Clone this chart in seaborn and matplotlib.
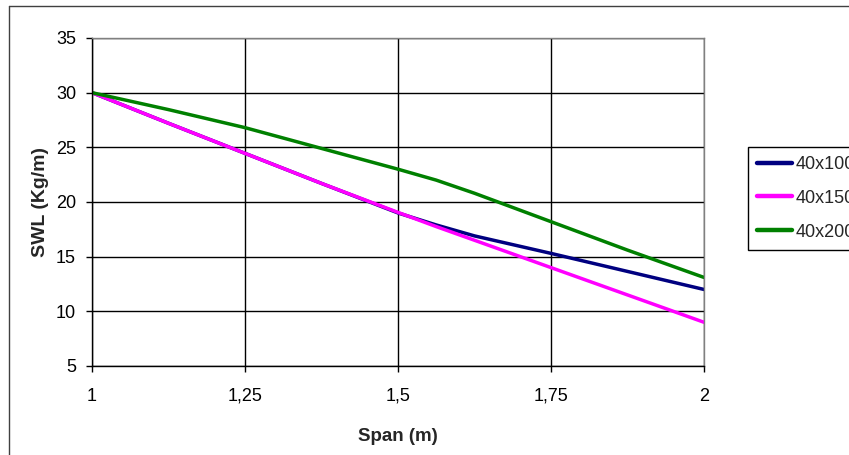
import matplotlib
matplotlib.use("Agg")
import matplotlib.pyplot as plt
from matplotlib.lines import Line2D
import seaborn as sns
import pandas as pd

# ---- data ----
span = [1.0, 1.125, 1.25, 1.375, 1.5, 1.5625, 1.625, 1.75, 1.875, 2.0]
swl_40x100 = [30.0, 27.2, 24.45, 21.7, 19.0, 17.9, 16.9, 15.3, 13.65, 12.0]
swl_40x150 = [30.0, 27.2, 24.45, 21.7, 19.05, 17.75, 16.5, 14.0, 11.5, 9.0]
swl_40x200 = [30.0, 28.45, 26.8, 24.9, 23.0, 22.0, 20.8, 18.2, 15.6, 13.1]
series_names = ["40x100", "40x150", "40x200"]
series_colors = ["#000080", "#FF00FF", "#008000"]
x_ticks = [1.0, 1.25, 1.5, 1.75, 2.0]
x_tick_labels = ["1", "1,25", "1,5", "1,75", "2"]
y_ticks = [5, 10, 15, 20, 25, 30, 35]

rows = []
for name, vals in zip(series_names, [swl_40x100, swl_40x150, swl_40x200]):
    for s, v in zip(span, vals):
        rows.append({"Span": s, "SWL": v, "Serie": name})
df = pd.DataFrame(rows)

sns.set_theme(style="white")
plt.rcParams["font.family"] = ["Liberation Sans", "DejaVu Sans"]

W, H = 849, 455
fig = plt.figure(figsize=(W / 100, H / 100), dpi=100)
ax = fig.add_axes([92 / W, 1 - 366 / H, (704 - 92) / W, (366 - 38) / H])

sns.lineplot(data=df, x="Span", y="SWL", hue="Serie", hue_order=series_names,
             palette=dict(zip(series_names, series_colors)), linewidth=2.5,
             ax=ax, legend=True)

ax.set_xlim(1.0, 2.0)
ax.set_ylim(5, 35)
ax.set_xticks(x_ticks)
ax.set_xticklabels(x_tick_labels)
ax.set_yticks(y_ticks)
ax.grid(True, color="black", linewidth=1.0)
ax.set_axisbelow(True)
for side in ["top", "right"]:
    ax.spines[side].set_color("#808080")
    ax.spines[side].set_linewidth(1.0)
for side in ["left", "bottom"]:
    ax.spines[side].set_color("black")
    ax.spines[side].set_linewidth(1.0)

ax.tick_params(axis="both", which="major", labelsize=13, colors="black",
               direction="out", length=4.5, width=1.0)
ax.tick_params(axis="y", pad=7)
ax.tick_params(axis="x", pad=11)
ax.tick_params(left=True, bottom=True)

ax.set_xlabel("Span (m)", fontsize=13.5, fontweight="bold", labelpad=17)
ax.set_ylabel("SWL (Kg/m)", fontsize=14, fontweight="bold", labelpad=5)

leg = ax.legend(loc="upper left", bbox_to_anchor=(748 / W, 1 - 147 / H),
                bbox_transform=fig.transFigure, fontsize=13, frameon=True,
                fancybox=False, framealpha=1, edgecolor="black",
                handlelength=1.95, handletextpad=0.2, labelspacing=0.93,
                borderpad=0.5, borderaxespad=0)
leg.get_frame().set_linewidth(1.0)
for lh in leg.get_lines():
    lh.set_linewidth(3.2)

# chart-area border (left and top edges visible in the reference)
fig.add_artist(Line2D([9 / W, 9 / W], [1 - 6 / H, 0], transform=fig.transFigure,
                      color="#404040", linewidth=1.0))
fig.add_artist(Line2D([9 / W, 1.0], [1 - 6 / H, 1 - 6 / H], transform=fig.transFigure,
                      color="#404040", linewidth=1.0))

fig.savefig("out.png", dpi=100)
